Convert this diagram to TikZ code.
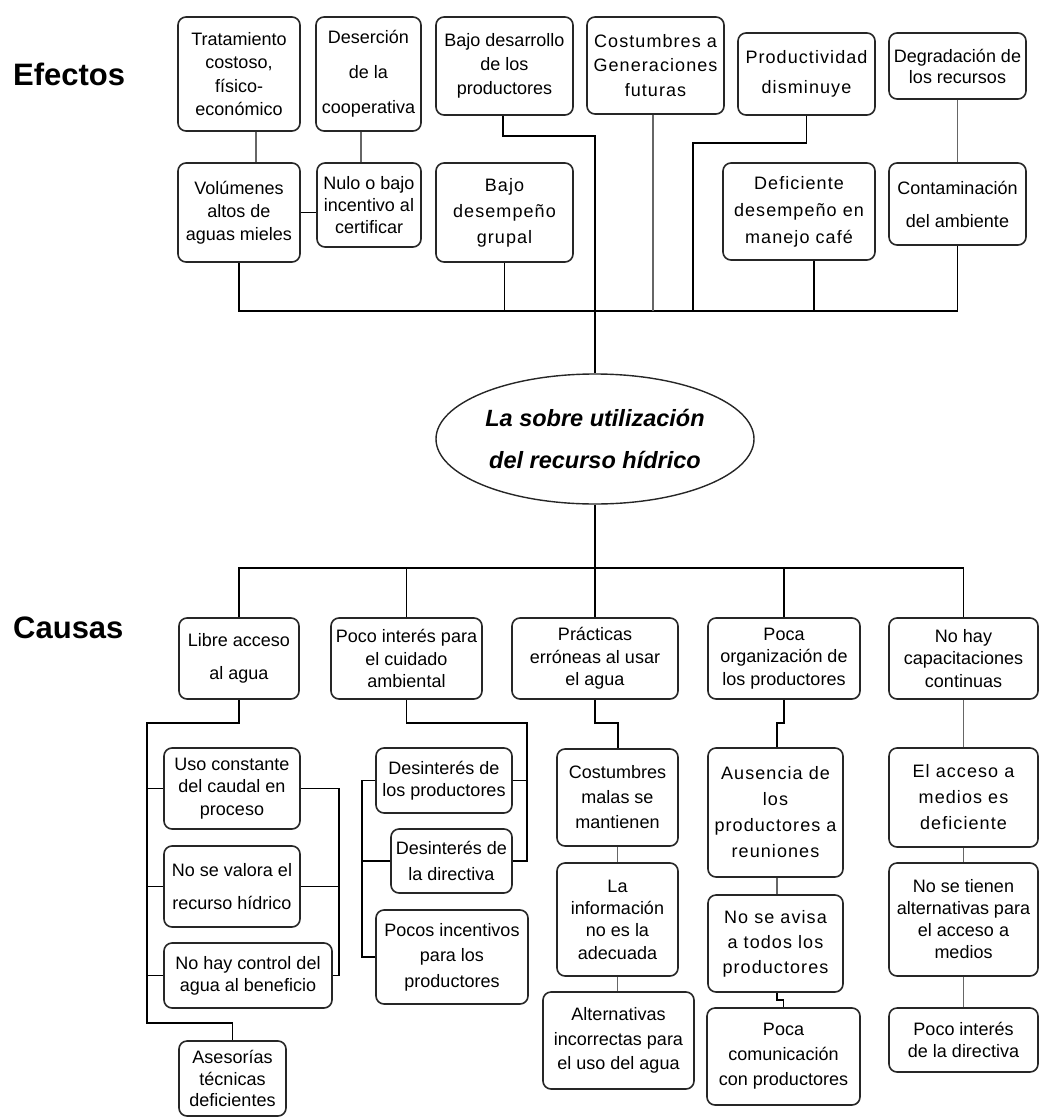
\documentclass[tikz,border=0pt]{standalone}
\usepackage{fontspec}
\setmainfont{Liberation Sans}
\usetikzlibrary{shapes.geometric,calc}
\begin{document}
\begin{tikzpicture}[x=1pt,y=-1pt,
  box/.style={draw=black!85, line width=1.6pt, rounded corners=8pt, align=center, inner sep=0pt, fill=white},
  conn/.style={line width=1.6pt, black},
  gconn/.style={line width=1.6pt, black!60},
  lbl/.style={font=\fontsize{31}{36}\selectfont\bfseries, anchor=base west, inner sep=0pt},
  fs/.style={font=\fontsize{18}{#1}\selectfont},
  ls/.style={font=\fontsize{18}{#1}\selectfont\addfontfeature{LetterSpace=6}}
]
\useasboundingbox (0,0) rectangle (1039,1118);

% labels
\node[lbl] (efectos) at (13,86) {Efectos};
\node[lbl] (causas) at (13,638) {Causas};

% ---------- effects ----------
\node[box, fs=23.5, minimum width=122pt, minimum height=114pt] (tra) at (239,74) {Tratamiento\\costoso,\\físico-\\económico};
\node[box, fs=35, minimum width=105pt, minimum height=114pt] (des) at (368.5,74) {Deserción\\de la\\cooperativa};
\node[box, fs=24, minimum width=137pt, minimum height=98pt] (bdl) at (504.5,66) {Bajo desarrollo\\de los\\productores};
\node[box, ls=24.5, minimum width=137pt, minimum height=97pt] (cos) at (655.5,65.5) {Costumbres a\\Generaciones\\futuras};
\node[box, ls=30, minimum width=137pt, minimum height=82pt] (pro) at (806.5,74) {Productividad\\disminuye};
\node[box, fs=21, minimum width=137pt, minimum height=66pt] (deg) at (957.5,66) {Degradación de\\los recursos};

\node[box, fs=23, minimum width=122pt, minimum height=99pt] (vol) at (239,212.5) {Volúmenes\\altos de\\aguas mieles};
\node[box, fs=22, minimum width=104pt, minimum height=84pt] (nul) at (369,205) {Nulo o bajo\\incentivo al\\certificar};
\node[box, ls=26, minimum width=137pt, minimum height=99pt] (bde) at (504.5,212.5) {Bajo\\desempeño\\grupal};
\node[box, ls=27, minimum width=152pt, minimum height=97pt] (def) at (799,211.5) {Deficiente\\desempeño en\\manejo café};
\node[box, fs=33, minimum width=137pt, minimum height=82pt] (con) at (957.5,204) {Contaminación\\del ambiente};

% ---------- central problem ----------
\node[draw=black!85, line width=1.4pt, ellipse, minimum width=318pt, minimum height=130pt, inner sep=0pt, align=center,
  font=\fontsize{23.5}{42}\selectfont\bfseries\itshape] (ell) at (595,439) {La sobre utilización\\del recurso hídrico};

% ---------- causes ----------
\node[box, fs=33, minimum width=120pt, minimum height=81pt] (lib) at (239,658.5) {Libre acceso\\al agua};
\node[box, fs=22.5, minimum width=151pt, minimum height=81pt] (poc) at (406.5,658.5) {Poco interés para\\el cuidado\\ambiental};
\node[box, fs=22.5, minimum width=166pt, minimum height=81pt] (pra) at (595,658.5) {Prácticas\\erróneas al usar\\el agua};
\node[box, fs=22.5, minimum width=152pt, minimum height=81pt] (org) at (784,658.5) {Poca\\organización de\\los productores};
\node[box, fs=22.5, minimum width=149pt, minimum height=81pt] (cap) at (963.5,658.5) {No hay\\capacitaciones\\continuas};

% column 1
\node[box, fs=22.5, minimum width=136pt, minimum height=81pt] (uso) at (232,788.5) {Uso constante\\del caudal en\\proceso};
\node[box, fs=33, minimum width=136pt, minimum height=81pt] (val) at (232,886.5) {No se valora el\\recurso hídrico};
\node[box, fs=22, minimum width=168pt, minimum height=65pt] (ctl) at (248,975.5) {No hay control del\\agua al beneficio};
\node[box, fs=21.5, minimum width=107pt, minimum height=75pt] (ase) at (232.5,1078.5) {Asesorías\\técnicas\\deficientes};

% column 2
\node[box, fs=22, minimum width=136pt, minimum height=65pt] (dpr) at (444,780.5) {Desinterés de\\los productores};
\node[box, fs=26, minimum width=121pt, minimum height=64pt] (ddi) at (451.5,861) {Desinterés de\\la directiva};
\node[box, fs=25.5, minimum width=152pt, minimum height=94pt] (pin) at (452,957) {Pocos incentivos\\para los\\productores};

% column 3
\node[box, fs=25, minimum width=121pt, minimum height=97pt] (cma) at (617.5,797.5) {Costumbres\\malas se\\mantienen};
\node[box, fs=22.3, minimum width=121pt, minimum height=113pt] (inf) at (617.5,919.5) {La\\información\\no es la\\adecuada};
\node[box, fs=24.5, minimum width=151pt, minimum height=97pt] (alt) at (618.5,1040.5) {Alternativas\\incorrectas para\\el uso del agua};

% column 4
\node[box, ls=26, minimum width=135pt, minimum height=129pt] (aus) at (775.5,812.5) {Ausencia de\\los\\productores a\\reuniones};
\node[box, ls=25, minimum width=135pt, minimum height=97pt] (avi) at (775.5,943.5) {No se avisa\\a todos los\\productores};
\node[box, fs=25, minimum width=153pt, minimum height=97pt] (com) at (783.5,1056.5) {Poca\\comunicación\\con productores};

% column 5
\node[box, ls=26, minimum width=149pt, minimum height=99pt] (acc) at (963.5,797.5) {El acceso a\\medios es\\deficiente};
\node[box, fs=22, minimum width=149pt, minimum height=113pt] (tie) at (963.5,919.5) {No se tienen\\alternativas para\\el acceso a\\medios};
\node[box, fs=22, minimum width=149pt, minimum height=64pt] (pid) at (963.5,1040) {Poco interés\\de la directiva};

% ---------- connectors: effects ----------
\coordinate (ebar) at (595,311);
\coordinate (k1) at (595,136);
\coordinate (k2) at (693,143);
\draw[gconn] ([xshift=17pt]tra.south) -- ([xshift=17pt]vol.north);
\draw[gconn] ([xshift=-7.5pt]des.south) -- ([xshift=-8pt]nul.north);
\draw[conn] (vol.east) -- (vol.east -| nul.west);
\draw[conn] (vol.south) -- (vol.south |- ebar) -- (con.south |- ebar) -- (con.south);
\draw[conn] (bde.south) -- (bde.south |- ebar);
\draw[conn] ([xshift=-1.5pt]bdl.south) |- (k1) -- (ebar) -- (ell.north);
\draw[gconn] ([xshift=-2.5pt]cos.south) -- ([xshift=-2.5pt]cos.south |- ebar);
\draw[conn] (pro.south) |- (k2) -- (k2 |- ebar);
\draw[conn] ([xshift=15pt]def.south) -- ([xshift=15pt]def.south |- ebar);
\draw[gconn] (deg.south) -- (con.north);

% ---------- connectors: causes ----------
\coordinate (cbar) at (595,568);
\draw[conn] (ell.south) -- (cbar);
\draw[conn] (lib.north) -- (lib.north |- cbar) -- (cap.north |- cbar) -- (cap.north);
\draw[conn] (poc.north) -- (poc.north |- cbar);
\draw[conn] (pra.north) -- (pra.north |- cbar);
\draw[conn] (org.north) -- (org.north |- cbar);

% column 1
\coordinate (c1a) at (147,723);
\coordinate (c1b) at (147,1023);
\coordinate (r1) at (339,788.5);
\draw[conn] (lib.south) |- (c1a) -- (c1b) -| (ase.north);
\draw[conn] (uso.west) -- (uso.west -| c1a);
\draw[conn] (val.west) -- (val.west -| c1a);
\draw[conn] (ctl.west) -- (ctl.west -| c1a);
\draw[conn] (uso.east) -- (uso.east -| r1) -- (ctl.east -| r1) -- (ctl.east);
\draw[conn] (val.east) -- (val.east -| r1);

% column 2
\coordinate (c2a) at (527,723);
\coordinate (c2l) at (362,781);
\draw[conn] (poc.south) |- (c2a) -- (c2a |- ddi.east) -- (ddi.east);
\draw[conn] (dpr.east) -- (dpr.east -| c2a);
\draw[conn] (dpr.west) -- (dpr.west -| c2l) -- (pin.west -| c2l) -- (pin.west);
\draw[conn] (ddi.west) -- (ddi.west -| c2l);

% column 3
\coordinate (c3a) at (618,723);
\draw[conn] (pra.south) |- (c3a) -- (c3a |- cma.north);
\draw[gconn] (cma.south) -- (inf.north);
\draw[gconn] (inf.south) -- (inf.south |- alt.north);

% column 4
\coordinate (c4a) at (777,723);
\coordinate (c4b) at (777,1000);
\draw[conn] (org.south) |- (c4a) -- (c4a |- aus.north);
\draw[gconn] (aus.south -| c4a) -- (avi.north -| c4a);
\draw[conn] (avi.south -| c4b) -- (c4b) -| (com.north);

% column 5
\draw[gconn] (cap.south) -- (acc.north);
\draw[gconn] (acc.south) -- (tie.north);
\draw[gconn] (tie.south) -- (pid.north);
\end{tikzpicture}
\end{document}
